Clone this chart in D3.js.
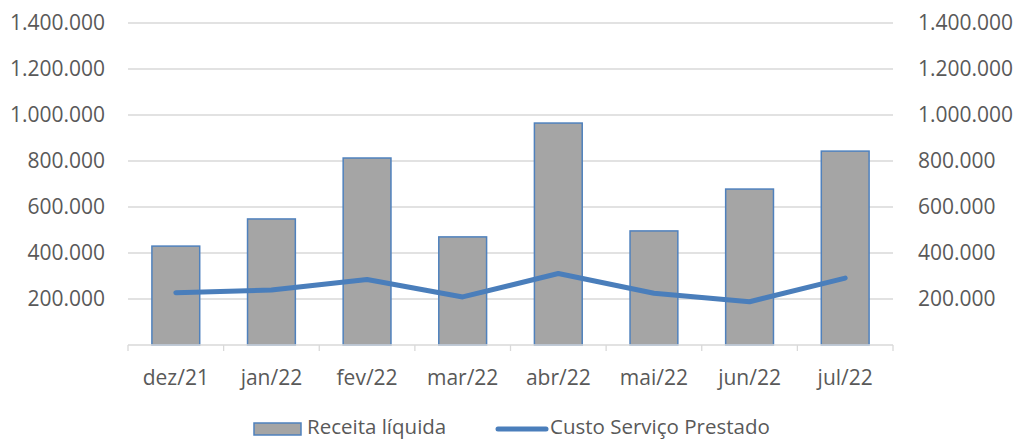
<!DOCTYPE html>
<html>
<head>
<meta charset="utf-8">
<script src="https://cdn.jsdelivr.net/npm/d3@7"></script>
<style>
  body { margin: 0; background: #fff; }
  svg text { font-family: "Open Sans", sans-serif; fill: #595959; }
</style>
</head>
<body>
<svg id="chart" width="1020" height="441"></svg>
<script>
// data
const months = ["dez/21", "jan/22", "fev/22", "mar/22", "abr/22", "mai/22", "jun/22", "jul/22"];
const receita = [430000, 548000, 813000, 470000, 965000, 496000, 678000, 843000];
const custo = [227000, 239000, 285000, 209000, 311000, 225000, 188000, 291000];
const yTicks = [200000, 400000, 600000, 800000, 1000000, 1200000, 1400000];

const svg = d3.select("#chart");
const plotLeft = 128, plotRight = 893, plotTop = 23, plotBottom = 345;

const x = d3.scaleBand().domain(months).range([plotLeft, plotRight]).paddingInner(0.5).paddingOuter(0.25);
const xEdge = d3.scaleBand().domain(months).range([plotLeft, plotRight]);
const y = d3.scaleLinear().domain([0, 1400000]).range([plotBottom, plotTop]);

const fmt = d => d3.format(",")(d).replace(/,/g, ".");

// gridlines
svg.append("g").selectAll("line").data(yTicks).join("line")
    .attr("x1", plotLeft).attr("x2", plotRight)
    .attr("y1", d => y(d)).attr("y2", d => y(d))
    .attr("stroke", "#d9d9d9").attr("stroke-width", 1.3);

// left and right labels
svg.append("g").selectAll("text").data(yTicks).join("text")
    .attr("x", 105).attr("y", d => y(d)).attr("dy", "0.35em")
    .attr("text-anchor", "end").style("font-size", "21px")
    .text(fmt);
svg.append("g").selectAll("text").data(yTicks).join("text")
    .attr("x", 918).attr("y", d => y(d)).attr("dy", "0.35em")
    .attr("text-anchor", "start").style("font-size", "21px")
    .text(fmt);

// bars
svg.append("g").selectAll("rect").data(receita).join("rect")
    .attr("x", (d, i) => x(months[i]))
    .attr("width", x.bandwidth())
    .attr("y", d => y(d))
    .attr("height", d => y(0) - y(d))
    .attr("fill", "#a5a5a5")
    .attr("stroke", "#4f81bd").attr("stroke-width", 1.5);

// x axis
svg.append("line")
    .attr("x1", plotLeft).attr("x2", plotRight).attr("y1", plotBottom).attr("y2", plotBottom)
    .attr("stroke", "#d9d9d9").attr("stroke-width", 1.3);
const edges = months.map(m => xEdge(m)).concat([plotRight]);
svg.append("g").selectAll("line").data(edges).join("line")
    .attr("x1", d => d).attr("x2", d => d)
    .attr("y1", plotBottom).attr("y2", plotBottom + 6)
    .attr("stroke", "#d9d9d9").attr("stroke-width", 1.3);
svg.append("g").selectAll("text").data(months).join("text")
    .attr("x", d => x(d) + x.bandwidth() / 2).attr("y", 385)
    .attr("text-anchor", "middle").style("font-size", "21px")
    .text(d => d);

// line
const line = d3.line()
    .x((d, i) => x(months[i]) + x.bandwidth() / 2)
    .y(d => y(d));
svg.append("path").datum(custo)
    .attr("d", line)
    .attr("fill", "none")
    .attr("stroke", "#4a7ebb").attr("stroke-width", 5)
    .attr("stroke-linejoin", "round").attr("stroke-linecap", "round");

// legend
const lg = svg.append("g");
lg.append("rect").attr("x", 254).attr("y", 423).attr("width", 47).attr("height", 12)
    .attr("fill", "#a5a5a5").attr("stroke", "#4f81bd").attr("stroke-width", 1.5);
lg.append("text").attr("x", 307).attr("y", 427).attr("dy", "0.35em")
    .style("font-size", "20.5px").text("Receita líquida");
lg.append("line").attr("x1", 498).attr("x2", 546).attr("y1", 429).attr("y2", 429)
    .attr("stroke", "#4a7ebb").attr("stroke-width", 5).attr("stroke-linecap", "round");
lg.append("text").attr("x", 550).attr("y", 427).attr("dy", "0.35em")
    .style("font-size", "20.5px").text("Custo Serviço Prestado");
</script>
</body>
</html>
